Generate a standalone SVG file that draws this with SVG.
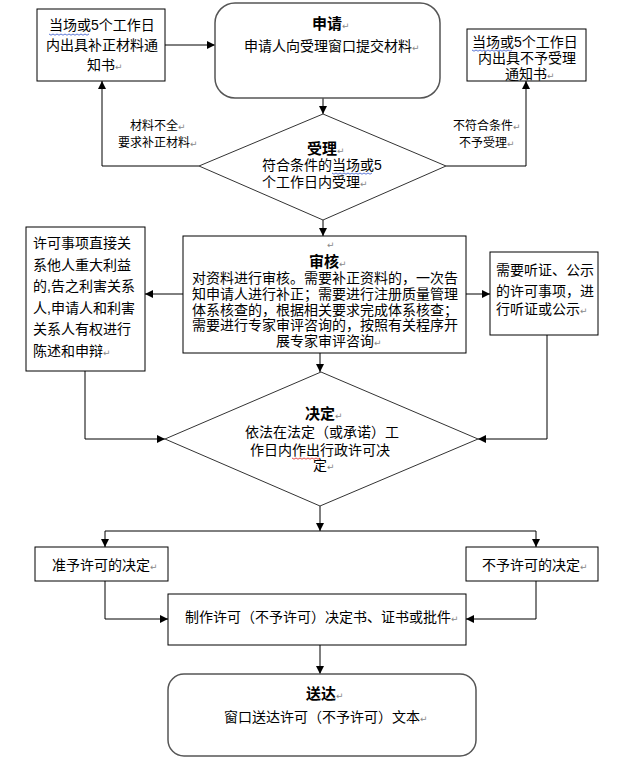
<svg xmlns="http://www.w3.org/2000/svg" width="619" height="778" viewBox="0 0 619 778">
<style>
text{font-family:"Liberation Sans","Noto Sans CJK SC",sans-serif;font-size:14px;fill:#000}
.t{font-size:15px;font-weight:bold}
.s{font-size:12px}
.pm{font-family:"DejaVu Sans",sans-serif;font-size:9px;fill:#888;font-weight:normal}
.box{fill:#fff;stroke:#000;stroke-width:1}
.rbox{fill:#fff;stroke:#555;stroke-width:1.5}
.dia{fill:#fff;stroke:#333;stroke-width:1}
.c{fill:none;stroke:#000;stroke-width:1;marker-end:url(#ah)}
.cn{fill:none;stroke:#000;stroke-width:1}
.wb{fill:none;stroke:#3355cc;stroke-width:0.8}
.wr{fill:none;stroke:#dd2222;stroke-width:0.8}
</style>
<defs>
<marker id="ah" markerUnits="userSpaceOnUse" markerWidth="9" markerHeight="9" refX="8" refY="4" orient="auto">
<path d="M0,0 L8,4 L0,8 z" fill="#000"/>
</marker>
</defs>
<rect width="619" height="778" fill="#fff"/>

<g id="connectors">
<line class="c" x1="165" y1="45" x2="215" y2="45"/>
<line class="c" x1="323" y1="98" x2="323" y2="114"/>
<polyline class="c" points="199,166 102,166 102,81"/>
<polyline class="c" points="446,166 526,166 526,81"/>
<line class="c" x1="323" y1="220" x2="323" y2="236"/>
<line class="c" x1="183" y1="294" x2="145" y2="294"/>
<line class="c" x1="466" y1="294" x2="490" y2="294"/>
<line class="c" x1="320" y1="353" x2="320" y2="372"/>
<polyline class="c" points="85,371 85,439 165,439"/>
<polyline class="c" points="547,335 547,439 478,439"/>
<line class="c" x1="320" y1="506" x2="320" y2="531"/>
<line class="cn" x1="105" y1="531" x2="536" y2="531"/>
<line class="c" x1="105" y1="531" x2="105" y2="547"/>
<line class="c" x1="536" y1="531" x2="536" y2="547"/>
<polyline class="c" points="105,581 105,619 168,619"/>
<polyline class="c" points="536,581 536,619 466,619"/>
<line class="c" x1="320" y1="645" x2="320" y2="674"/>
<text class="s" x="130" y="130">材料不全<tspan class="pm">↵</tspan></text>
<text class="s" x="118" y="147">要求补正材料<tspan class="pm">↵</tspan></text>
<text class="s" x="453" y="130">不符合条件<tspan class="pm">↵</tspan></text>
<text class="s" x="459" y="147">不予受理<tspan class="pm">↵</tspan></text>
</g>

<g id="node-notice-correction">
<rect class="box" x="37" y="9" width="128" height="72"/>
<text x="49" y="30">当场或5个工作日</text>
<text x="46" y="50">内出具补正材料通</text>
<text x="87" y="70">知书<tspan class="pm">↵</tspan></text>
<path class="wb" d="M49,34 l2,1.2 2,-1.2 2,1.2 2,-1.2 2,1.2 2,-1.2 2,1.2 2,-1.2 2,1.2 2,-1.2 2,1.2 2,-1.2 2,1.2 2,-1.2 2,1.2 2,-1.2 2,1.2 2,-1.2 2,1.2 2,-1.2"/>
</g>

<g id="node-apply">
<rect class="rbox" x="215" y="3" width="225" height="95" rx="20" ry="20"/>
<text class="t" x="312" y="29">申请<tspan class="pm">↵</tspan></text>
<text x="244" y="51">申请人向受理窗口提交材料<tspan class="pm">↵</tspan></text>
</g>

<g id="node-notice-reject">
<rect class="box" x="467" y="29" width="119" height="52"/>
<text x="472" y="47">当场或5个工作日</text>
<text x="478" y="63">内出具不予受理</text>
<text x="505" y="79">通知书<tspan class="pm">↵</tspan></text>
<path class="wb" d="M472,50 l2,1.2 2,-1.2 2,1.2 2,-1.2 2,1.2 2,-1.2 2,1.2 2,-1.2 2,1.2 2,-1.2 2,1.2 2,-1.2 2,1.2 2,-1.2 2,1.2 2,-1.2 2,1.2 2,-1.2 2,1.2 2,-1.2"/>
</g>

<g id="node-accept">
<polygon class="dia" points="323,114 446,166 323,220 199,166"/>
<text class="t" x="307" y="154">受理<tspan class="pm">↵</tspan></text>
<text x="262" y="170">符合条件的当场或5</text>
<text x="262" y="187">个工作日内受理<tspan class="pm">↵</tspan></text>
<path class="wb" d="M332,173 l2,1.2 2,-1.2 2,1.2 2,-1.2 2,1.2 2,-1.2 2,1.2 2,-1.2 2,1.2 2,-1.2 2,1.2 2,-1.2 2,1.2 2,-1.2 2,1.2 2,-1.2 2,1.2 2,-1.2 2,1.2 2,-1.2"/>
</g>

<g id="node-review">
<rect class="box" x="183" y="236" width="283" height="117"/>
<text class="pm" x="327" y="248">↵</text>
<text class="t" x="309" y="267">审核<tspan class="pm">↵</tspan></text>
<text x="192" y="283">对资料进行审核。需要补正资料的，一次告</text>
<text x="192" y="299">知申请人进行补正；需要进行注册质量管理</text>
<text x="192" y="314.5">体系核查的，根据相关要求完成体系核查；</text>
<text x="192" y="330">需要进行专家审评咨询的，按照有关程序开</text>
<text x="276" y="346">展专家审评咨询<tspan class="pm">↵</tspan></text>
</g>

<g id="node-stakeholder">
<rect class="box" x="26" y="227" width="119" height="144"/>
<text x="33" y="248">许可事项直接关</text>
<text x="33" y="270">系他人重大利益</text>
<text x="33" y="291">的,告之利害关系</text>
<text x="33" y="313">人,申请人和利害</text>
<text x="33" y="334">关系人有权进行</text>
<text x="33" y="356">陈述和申辩<tspan class="pm">↵</tspan></text>
</g>

<g id="node-hearing">
<rect class="box" x="490" y="252" width="108" height="83"/>
<text x="496" y="275">需要听证、公示</text>
<text x="496" y="296">的许可事项，进</text>
<text x="496" y="314">行听证或公示<tspan class="pm">↵</tspan></text>
</g>

<g id="node-decision">
<polygon class="dia" points="321,372 478,439 320,506 165,439"/>
<text class="t" x="305" y="419">决定<tspan class="pm">↵</tspan></text>
<text x="245" y="437">依法在法定（或承诺）工</text>
<text x="250" y="455">作日内作出行政许可决</text>
<text x="313" y="470">定<tspan class="pm">↵</tspan></text>
<path class="wr" d="M292,458 l2,1.2 2,-1.2 2,1.2 2,-1.2 2,1.2 2,-1.2 2,1.2 2,-1.2 2,1.2 2,-1.2 2,1.2 2,-1.2 2,1.2 2,-1.2"/>
</g>

<g id="node-grant">
<rect class="box" x="35" y="547" width="133" height="34"/>
<text x="52" y="570">准予许可的决定<tspan class="pm">↵</tspan></text>
</g>

<g id="node-deny">
<rect class="box" x="466" y="547" width="132" height="34"/>
<text x="482" y="570">不予许可的决定<tspan class="pm">↵</tspan></text>
</g>

<g id="node-produce">
<rect class="box" x="168" y="594" width="298" height="51"/>
<text x="185" y="622">制作许可（不予许可）决定书、证书或批件<tspan class="pm">↵</tspan></text>
</g>

<g id="node-deliver">
<rect class="rbox" x="168" y="674" width="308" height="82" rx="16" ry="16"/>
<text class="t" x="306" y="699">送达<tspan class="pm">↵</tspan></text>
<text x="224" y="722">窗口送达许可（不予许可）文本<tspan class="pm">↵</tspan></text>
</g>
</svg>
